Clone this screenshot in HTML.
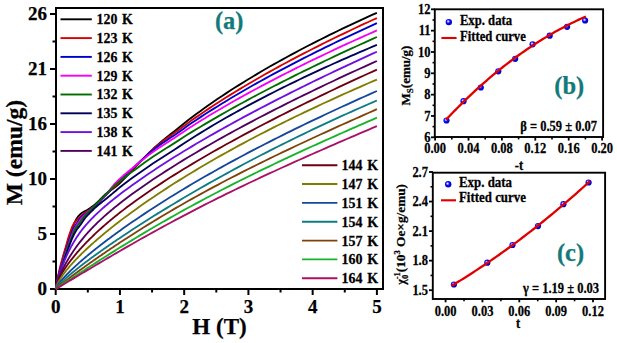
<!DOCTYPE html>
<html><head><meta charset="utf-8"><style>
html,body{margin:0;padding:0;background:#fff;}
body{width:617px;height:343px;overflow:hidden;}
svg{display:block;}
text{stroke:#000;stroke-width:0.25px;}
text.tl{stroke:#127a7a;}
</style></head><body>
<svg width="617" height="343" viewBox="0 0 617 343">
<rect width="617" height="343" fill="#fff"/>
<rect x="56" y="8" width="327" height="281" fill="none" stroke="#000" stroke-width="2"/>
<line x1="50" y1="289" x2="56" y2="289" stroke="#000" stroke-width="2"/>
<text x="47" y="294.8" text-anchor="end" font-size="19" font-family="Liberation Serif" font-weight="bold">0</text>
<line x1="52.5" y1="261.5" x2="56" y2="261.5" stroke="#000" stroke-width="2"/>
<line x1="50" y1="234" x2="56" y2="234" stroke="#000" stroke-width="2"/>
<text x="47" y="239.8" text-anchor="end" font-size="19" font-family="Liberation Serif" font-weight="bold">5</text>
<line x1="52.5" y1="206.5" x2="56" y2="206.5" stroke="#000" stroke-width="2"/>
<line x1="50" y1="179" x2="56" y2="179" stroke="#000" stroke-width="2"/>
<text x="47" y="184.8" text-anchor="end" font-size="19" font-family="Liberation Serif" font-weight="bold">10</text>
<line x1="52.5" y1="151.5" x2="56" y2="151.5" stroke="#000" stroke-width="2"/>
<line x1="50" y1="124" x2="56" y2="124" stroke="#000" stroke-width="2"/>
<text x="47" y="129.8" text-anchor="end" font-size="19" font-family="Liberation Serif" font-weight="bold">16</text>
<line x1="52.5" y1="96.5" x2="56" y2="96.5" stroke="#000" stroke-width="2"/>
<line x1="50" y1="69" x2="56" y2="69" stroke="#000" stroke-width="2"/>
<text x="47" y="74.8" text-anchor="end" font-size="19" font-family="Liberation Serif" font-weight="bold">21</text>
<line x1="52.5" y1="41.5" x2="56" y2="41.5" stroke="#000" stroke-width="2"/>
<line x1="50" y1="14" x2="56" y2="14" stroke="#000" stroke-width="2"/>
<text x="47" y="19.8" text-anchor="end" font-size="19" font-family="Liberation Serif" font-weight="bold">26</text>
<line x1="55.70" y1="289" x2="55.70" y2="295" stroke="#000" stroke-width="2"/>
<text x="55.70" y="312.5" text-anchor="middle" font-size="19" font-family="Liberation Serif" font-weight="bold">0</text>
<line x1="87.82" y1="289" x2="87.82" y2="292.5" stroke="#000" stroke-width="2"/>
<line x1="119.94" y1="289" x2="119.94" y2="295" stroke="#000" stroke-width="2"/>
<text x="119.94" y="312.5" text-anchor="middle" font-size="19" font-family="Liberation Serif" font-weight="bold">1</text>
<line x1="152.06" y1="289" x2="152.06" y2="292.5" stroke="#000" stroke-width="2"/>
<line x1="184.18" y1="289" x2="184.18" y2="295" stroke="#000" stroke-width="2"/>
<text x="184.18" y="312.5" text-anchor="middle" font-size="19" font-family="Liberation Serif" font-weight="bold">2</text>
<line x1="216.30" y1="289" x2="216.30" y2="292.5" stroke="#000" stroke-width="2"/>
<line x1="248.42" y1="289" x2="248.42" y2="295" stroke="#000" stroke-width="2"/>
<text x="248.42" y="312.5" text-anchor="middle" font-size="19" font-family="Liberation Serif" font-weight="bold">3</text>
<line x1="280.54" y1="289" x2="280.54" y2="292.5" stroke="#000" stroke-width="2"/>
<line x1="312.66" y1="289" x2="312.66" y2="295" stroke="#000" stroke-width="2"/>
<text x="312.66" y="312.5" text-anchor="middle" font-size="19" font-family="Liberation Serif" font-weight="bold">4</text>
<line x1="344.78" y1="289" x2="344.78" y2="292.5" stroke="#000" stroke-width="2"/>
<line x1="376.90" y1="289" x2="376.90" y2="295" stroke="#000" stroke-width="2"/>
<text x="376.90" y="312.5" text-anchor="middle" font-size="19" font-family="Liberation Serif" font-weight="bold">5</text>
<path d="M55.70,289.00 L56.51,284.77 L57.33,280.72 L58.14,276.89 L58.95,273.27 L59.77,269.90 L60.58,266.75 L61.39,263.77 L62.21,260.86 L63.02,257.96 L63.83,255.10 L64.64,252.29 L65.46,249.53 L66.27,246.79 L67.08,244.04 L67.90,241.29 L68.71,238.59 L69.52,236.00 L70.34,233.53 L71.15,231.12 L71.96,228.82 L72.78,226.71 L73.59,224.81 L74.40,222.99 L75.22,221.28 L76.03,219.71 L76.84,218.33 L77.66,217.18 L78.47,216.16 L79.28,215.25 L80.09,214.43 L80.91,213.70 L81.72,213.05 L82.53,212.49 L83.35,211.99 L84.16,211.53 L84.97,211.11 L85.79,210.70 L86.60,210.27 L87.41,209.81 L88.23,209.31 L89.04,208.79 L89.85,208.25 L90.67,207.70 L91.48,207.12 L92.29,206.53 L93.11,205.91 L93.92,205.27 L94.73,204.60 L95.55,203.91 L96.36,203.20 L97.17,202.46 L97.98,201.68 L98.80,200.88 L99.61,200.05 L100.42,199.22 L101.24,198.37 L102.05,197.53 L102.86,196.70 L103.68,195.88 L104.49,195.08 L105.30,194.31 L106.12,193.58 L106.93,192.88 L107.74,192.23 L108.56,191.63 L109.37,191.05 L110.18,190.50 L111.00,189.96 L111.81,189.43 L112.62,188.90 L113.43,188.36 L114.25,187.79 L115.06,187.20 L115.87,186.57 L116.69,185.91 L117.50,185.22 L118.31,184.50 L119.13,183.77 L119.94,183.01 L123.15,179.86 L127.45,175.36 L131.75,170.75 L136.05,166.25 L140.36,161.80 L144.66,157.29 L148.96,152.90 L153.26,148.80 L157.56,144.94 L161.86,141.26 L166.16,137.75 L170.46,134.34 L174.76,130.97 L179.06,127.52 L183.36,124.02 L187.66,120.56 L191.97,117.26 L196.27,114.05 L200.57,110.91 L204.87,107.82 L209.17,104.78 L213.47,101.80 L217.77,98.86 L222.07,95.97 L226.37,93.13 L230.67,90.33 L234.97,87.57 L239.27,84.85 L243.57,82.17 L247.88,79.53 L252.18,76.92 L256.48,74.35 L260.78,71.81 L265.08,69.30 L269.38,66.82 L273.68,64.38 L277.98,61.96 L282.28,59.57 L286.58,57.21 L290.88,54.88 L295.18,52.57 L299.49,50.28 L303.79,48.02 L308.09,45.79 L312.39,43.58 L316.69,41.39 L320.99,39.22 L325.29,37.07 L329.59,34.94 L333.89,32.84 L338.19,30.75 L342.49,28.68 L346.79,26.63 L351.10,24.60 L355.40,22.59 L359.70,20.60 L364.00,18.62 L368.30,16.66 L372.60,14.71 L376.90,12.79" fill="none" stroke="#000000" stroke-width="1.85" stroke-linejoin="round"/>
<path d="M55.70,289.00 L56.51,284.30 L57.33,279.85 L58.14,275.71 L58.95,271.89 L59.77,268.42 L60.58,265.21 L61.39,262.17 L62.21,259.20 L63.02,256.27 L63.83,253.45 L64.64,250.69 L65.46,247.94 L66.27,245.14 L67.08,242.21 L67.90,239.26 L68.71,236.46 L69.52,233.97 L70.34,231.69 L71.15,229.50 L71.96,227.46 L72.78,225.64 L73.59,224.10 L74.40,222.87 L75.22,221.83 L76.03,220.92 L76.84,220.09 L77.66,219.29 L78.47,218.49 L79.28,217.70 L80.09,216.94 L80.91,216.20 L81.72,215.49 L82.53,214.81 L83.35,214.14 L84.16,213.50 L84.97,212.89 L85.79,212.30 L86.60,211.72 L87.41,211.15 L88.23,210.59 L89.04,210.03 L89.85,209.46 L90.67,208.88 L91.48,208.29 L92.29,207.70 L93.11,207.12 L93.92,206.53 L94.73,205.91 L95.55,205.27 L96.36,204.59 L97.17,203.87 L97.98,203.11 L98.80,202.33 L99.61,201.52 L100.42,200.69 L101.24,199.85 L102.05,199.00 L102.86,198.14 L103.68,197.28 L104.49,196.43 L105.30,195.59 L106.12,194.77 L106.93,193.96 L107.74,193.18 L108.56,192.41 L109.37,191.64 L110.18,190.88 L111.00,190.12 L111.81,189.36 L112.62,188.61 L113.43,187.85 L114.25,187.09 L115.06,186.32 L115.87,185.55 L116.69,184.77 L117.50,183.98 L118.31,183.20 L119.13,182.41 L119.94,181.61 L123.15,178.46 L127.45,174.21 L131.75,169.95 L136.05,165.72 L140.36,161.47 L144.66,157.20 L148.96,153.06 L153.26,149.18 L157.56,145.48 L161.86,141.96 L166.16,138.72 L170.46,135.71 L174.76,132.77 L179.06,129.68 L183.36,126.45 L187.66,123.20 L191.97,120.11 L196.27,117.12 L200.57,114.16 L204.87,111.25 L209.17,108.39 L213.47,105.56 L217.77,102.78 L222.07,100.03 L226.37,97.32 L230.67,94.64 L234.97,92.00 L239.27,89.38 L243.57,86.80 L247.88,84.25 L252.18,81.73 L256.48,79.23 L260.78,76.77 L265.08,74.32 L269.38,71.91 L273.68,69.52 L277.98,67.15 L282.28,64.81 L286.58,62.48 L290.88,60.19 L295.18,57.91 L299.49,55.65 L303.79,53.41 L308.09,51.20 L312.39,49.00 L316.69,46.82 L320.99,44.66 L325.29,42.51 L329.59,40.39 L333.89,38.28 L338.19,36.18 L342.49,34.11 L346.79,32.05 L351.10,30.00 L355.40,27.97 L359.70,25.96 L364.00,23.96 L368.30,21.97 L372.60,20.00 L376.90,18.04" fill="none" stroke="#d80000" stroke-width="1.85" stroke-linejoin="round"/>
<path d="M55.70,289.00 L56.51,285.11 L57.33,281.38 L58.14,277.83 L58.95,274.45 L59.77,271.27 L60.58,268.32 L61.39,265.53 L62.21,262.83 L63.02,260.16 L63.83,257.43 L64.64,254.71 L65.46,252.01 L66.27,249.35 L67.08,246.78 L67.90,244.25 L68.71,241.79 L69.52,239.38 L70.34,237.03 L71.15,234.72 L71.96,232.43 L72.78,230.37 L73.59,228.64 L74.40,227.10 L75.22,225.70 L76.03,224.39 L76.84,223.13 L77.66,221.91 L78.47,220.73 L79.28,219.60 L80.09,218.56 L80.91,217.60 L81.72,216.75 L82.53,215.97 L83.35,215.26 L84.16,214.60 L84.97,213.96 L85.79,213.35 L86.60,212.73 L87.41,212.11 L88.23,211.47 L89.04,210.84 L89.85,210.22 L90.67,209.62 L91.48,209.01 L92.29,208.41 L93.11,207.79 L93.92,207.16 L94.73,206.50 L95.55,205.82 L96.36,205.10 L97.17,204.35 L97.98,203.57 L98.80,202.76 L99.61,201.93 L100.42,201.08 L101.24,200.22 L102.05,199.34 L102.86,198.45 L103.68,197.56 L104.49,196.66 L105.30,195.76 L106.12,194.87 L106.93,193.98 L107.74,193.10 L108.56,192.19 L109.37,191.27 L110.18,190.34 L111.00,189.40 L111.81,188.47 L112.62,187.54 L113.43,186.62 L114.25,185.72 L115.06,184.83 L115.87,183.98 L116.69,183.14 L117.50,182.32 L118.31,181.51 L119.13,180.71 L119.94,179.92 L123.15,176.87 L127.45,172.93 L131.75,169.07 L136.05,165.20 L140.36,161.25 L144.66,157.32 L148.96,153.54 L153.26,150.02 L157.56,146.72 L161.86,143.61 L166.16,140.68 L170.46,137.84 L174.76,135.00 L179.06,132.01 L183.36,128.88 L187.66,125.76 L191.97,122.80 L196.27,119.94 L200.57,117.11 L204.87,114.33 L209.17,111.58 L213.47,108.86 L217.77,106.18 L222.07,103.54 L226.37,100.92 L230.67,98.33 L234.97,95.78 L239.27,93.25 L243.57,90.75 L247.88,88.27 L252.18,85.82 L256.48,83.40 L260.78,81.00 L265.08,78.62 L269.38,76.27 L273.68,73.93 L277.98,71.62 L282.28,69.33 L286.58,67.06 L290.88,64.81 L295.18,62.57 L299.49,60.36 L303.79,58.16 L308.09,55.98 L312.39,53.82 L316.69,51.68 L320.99,49.55 L325.29,47.44 L329.59,45.34 L333.89,43.26 L338.19,41.19 L342.49,39.14 L346.79,37.10 L351.10,35.07 L355.40,33.06 L359.70,31.06 L364.00,29.08 L368.30,27.11 L372.60,25.15 L376.90,23.20" fill="none" stroke="#0000cc" stroke-width="1.85" stroke-linejoin="round"/>
<path d="M55.70,289.00 L56.51,285.49 L57.33,282.08 L58.14,278.77 L58.95,275.57 L59.77,272.49 L60.58,269.51 L61.39,266.64 L62.21,263.86 L63.02,261.16 L63.83,258.53 L64.64,255.98 L65.46,253.50 L66.27,251.08 L67.08,248.69 L67.90,246.30 L68.71,243.93 L69.52,241.58 L70.34,239.29 L71.15,237.09 L71.96,234.92 L72.78,232.81 L73.59,230.87 L74.40,229.20 L75.22,227.72 L76.03,226.36 L76.84,225.09 L77.66,223.85 L78.47,222.63 L79.28,221.42 L80.09,220.25 L80.91,219.13 L81.72,218.06 L82.53,217.08 L83.35,216.18 L84.16,215.35 L84.97,214.58 L85.79,213.85 L86.60,213.15 L87.41,212.46 L88.23,211.77 L89.04,211.07 L89.85,210.35 L90.67,209.63 L91.48,208.93 L92.29,208.22 L93.11,207.52 L93.92,206.80 L94.73,206.07 L95.55,205.32 L96.36,204.55 L97.17,203.76 L97.98,202.97 L98.80,202.16 L99.61,201.34 L100.42,200.51 L101.24,199.66 L102.05,198.81 L102.86,197.95 L103.68,197.07 L104.49,196.19 L105.30,195.29 L106.12,194.38 L106.93,193.46 L107.74,192.52 L108.56,191.52 L109.37,190.49 L110.18,189.43 L111.00,188.37 L111.81,187.32 L112.62,186.29 L113.43,185.29 L114.25,184.36 L115.06,183.49 L115.87,182.65 L116.69,181.83 L117.50,181.02 L118.31,180.23 L119.13,179.46 L119.94,178.70 L123.15,175.83 L127.45,172.21 L131.75,168.71 L136.05,165.20 L140.36,161.66 L144.66,158.18 L148.96,154.85 L153.26,151.70 L157.56,148.75 L161.86,145.94 L166.16,143.22 L170.46,140.47 L174.76,137.69 L179.06,134.82 L183.36,131.89 L187.66,128.98 L191.97,126.20 L196.27,123.50 L200.57,120.82 L204.87,118.18 L209.17,115.58 L213.47,113.00 L217.77,110.45 L222.07,107.94 L226.37,105.45 L230.67,102.98 L234.97,100.54 L239.27,98.13 L243.57,95.74 L247.88,93.37 L252.18,91.02 L256.48,88.70 L260.78,86.40 L265.08,84.12 L269.38,81.85 L273.68,79.61 L277.98,77.38 L282.28,75.18 L286.58,72.99 L290.88,70.82 L295.18,68.66 L299.49,66.52 L303.79,64.40 L308.09,62.29 L312.39,60.20 L316.69,58.12 L320.99,56.06 L325.29,54.01 L329.59,51.97 L333.89,49.95 L338.19,47.94 L342.49,45.95 L346.79,43.96 L351.10,41.99 L355.40,40.03 L359.70,38.09 L364.00,36.15 L368.30,34.23 L372.60,32.31 L376.90,30.41" fill="none" stroke="#f400f4" stroke-width="1.85" stroke-linejoin="round"/>
<path d="M55.70,289.00 L56.51,285.66 L57.33,282.40 L58.14,279.23 L58.95,276.15 L59.77,273.16 L60.58,270.27 L61.39,267.49 L62.21,264.78 L63.02,262.14 L63.83,259.55 L64.64,256.99 L65.46,254.46 L66.27,251.98 L67.08,249.57 L67.90,247.24 L68.71,245.01 L69.52,242.86 L70.34,240.77 L71.15,238.71 L71.96,236.66 L72.78,234.53 L73.59,232.45 L74.40,230.59 L75.22,229.09 L76.03,227.81 L76.84,226.65 L77.66,225.56 L78.47,224.48 L79.28,223.35 L80.09,222.18 L80.91,221.00 L81.72,219.82 L82.53,218.68 L83.35,217.58 L84.16,216.55 L84.97,215.60 L85.79,214.73 L86.60,213.91 L87.41,213.13 L88.23,212.36 L89.04,211.61 L89.85,210.84 L90.67,210.04 L91.48,209.21 L92.29,208.35 L93.11,207.47 L93.92,206.58 L94.73,205.70 L95.55,204.84 L96.36,203.99 L97.17,203.16 L97.98,202.33 L98.80,201.51 L99.61,200.69 L100.42,199.88 L101.24,199.07 L102.05,198.27 L102.86,197.47 L103.68,196.66 L104.49,195.86 L105.30,195.06 L106.12,194.25 L106.93,193.44 L107.74,192.62 L108.56,191.79 L109.37,190.95 L110.18,190.11 L111.00,189.27 L111.81,188.43 L112.62,187.60 L113.43,186.79 L114.25,185.99 L115.06,185.22 L115.87,184.48 L116.69,183.76 L117.50,183.06 L118.31,182.37 L119.13,181.69 L119.94,181.02 L123.15,178.47 L127.45,175.23 L131.75,172.08 L136.05,168.91 L140.36,165.71 L144.66,162.54 L148.96,159.46 L153.26,156.51 L157.56,153.67 L161.86,150.94 L166.16,148.26 L170.46,145.59 L174.76,142.89 L179.06,140.14 L183.36,137.33 L187.66,134.56 L191.97,131.89 L196.27,129.27 L200.57,126.68 L204.87,124.12 L209.17,121.59 L213.47,119.08 L217.77,116.60 L222.07,114.14 L226.37,111.71 L230.67,109.29 L234.97,106.90 L239.27,104.54 L243.57,102.19 L247.88,99.86 L252.18,97.55 L256.48,95.26 L260.78,92.99 L265.08,90.73 L269.38,88.50 L273.68,86.27 L277.98,84.07 L282.28,81.88 L286.58,79.71 L290.88,77.55 L295.18,75.40 L299.49,73.27 L303.79,71.16 L308.09,69.06 L312.39,66.97 L316.69,64.89 L320.99,62.83 L325.29,60.77 L329.59,58.73 L333.89,56.71 L338.19,54.69 L342.49,52.69 L346.79,50.69 L351.10,48.71 L355.40,46.74 L359.70,44.78 L364.00,42.82 L368.30,40.88 L372.60,38.95 L376.90,37.03" fill="none" stroke="#006c00" stroke-width="1.85" stroke-linejoin="round"/>
<path d="M55.70,289.00 L56.51,285.69 L57.33,282.48 L58.14,279.38 L58.95,276.40 L59.77,273.54 L60.58,270.81 L61.39,268.22 L62.21,265.73 L63.02,263.32 L63.83,260.95 L64.64,258.59 L65.46,256.26 L66.27,253.96 L67.08,251.71 L67.90,249.49 L68.71,247.32 L69.52,245.14 L70.34,242.99 L71.15,240.89 L71.96,238.90 L72.78,237.06 L73.59,235.34 L74.40,233.70 L75.22,232.17 L76.03,230.76 L76.84,229.49 L77.66,228.37 L78.47,227.35 L79.28,226.34 L80.09,225.28 L80.91,224.13 L81.72,222.94 L82.53,221.73 L83.35,220.52 L84.16,219.35 L84.97,218.23 L85.79,217.20 L86.60,216.26 L87.41,215.38 L88.23,214.55 L89.04,213.74 L89.85,212.94 L90.67,212.15 L91.48,211.34 L92.29,210.54 L93.11,209.73 L93.92,208.94 L94.73,208.17 L95.55,207.42 L96.36,206.69 L97.17,205.99 L97.98,205.30 L98.80,204.63 L99.61,203.96 L100.42,203.31 L101.24,202.67 L102.05,202.03 L102.86,201.39 L103.68,200.75 L104.49,200.12 L105.30,199.47 L106.12,198.83 L106.93,198.17 L107.74,197.51 L108.56,196.83 L109.37,196.16 L110.18,195.48 L111.00,194.80 L111.81,194.11 L112.62,193.42 L113.43,192.74 L114.25,192.05 L115.06,191.36 L115.87,190.68 L116.69,189.99 L117.50,189.31 L118.31,188.64 L119.13,187.97 L119.94,187.30 L123.15,184.74 L127.45,181.50 L131.75,178.33 L136.05,175.22 L140.36,172.18 L144.66,169.19 L148.96,166.25 L153.26,163.35 L157.56,160.50 L161.86,157.70 L166.16,154.96 L170.46,152.22 L174.76,149.43 L179.06,146.62 L183.36,143.79 L187.66,140.99 L191.97,138.23 L196.27,135.52 L200.57,132.85 L204.87,130.21 L209.17,127.61 L213.47,125.05 L217.77,122.52 L222.07,120.03 L226.37,117.56 L230.67,115.12 L234.97,112.72 L239.27,110.34 L243.57,107.99 L247.88,105.66 L252.18,103.36 L256.48,101.08 L260.78,98.83 L265.08,96.60 L269.38,94.39 L273.68,92.20 L277.98,90.04 L282.28,87.89 L286.58,85.77 L290.88,83.66 L295.18,81.57 L299.49,79.50 L303.79,77.45 L308.09,75.41 L312.39,73.39 L316.69,71.39 L320.99,69.40 L325.29,67.43 L329.59,65.47 L333.89,63.53 L338.19,61.61 L342.49,59.69 L346.79,57.79 L351.10,55.91 L355.40,54.04 L359.70,52.18 L364.00,50.33 L368.30,48.50 L372.60,46.68 L376.90,44.87" fill="none" stroke="#000058" stroke-width="1.85" stroke-linejoin="round"/>
<path d="M55.70,289.00 L56.51,284.37 L57.33,281.21 L58.14,278.40 L58.95,275.79 L59.77,273.33 L60.58,270.98 L61.39,268.72 L62.21,266.54 L63.02,264.44 L63.83,262.41 L64.64,260.44 L65.46,258.53 L66.27,256.68 L67.08,254.88 L67.90,253.14 L68.71,251.46 L69.52,249.82 L70.34,248.23 L71.15,246.69 L71.96,245.20 L72.78,243.75 L73.59,242.34 L74.40,240.97 L75.22,239.64 L76.03,238.35 L76.84,237.09 L77.66,235.87 L78.47,234.68 L79.28,233.52 L80.09,232.39 L80.91,231.29 L81.72,230.22 L82.53,229.17 L83.35,228.14 L84.16,227.14 L84.97,226.16 L85.79,225.20 L86.60,224.26 L87.41,223.33 L88.23,222.43 L89.04,221.53 L89.85,220.66 L90.67,219.80 L91.48,218.95 L92.29,218.12 L93.11,217.29 L93.92,216.48 L94.73,215.68 L95.55,214.90 L96.36,214.12 L97.17,213.35 L97.98,212.58 L98.80,211.83 L99.61,211.09 L100.42,210.35 L101.24,209.62 L102.05,208.90 L102.86,208.18 L103.68,207.47 L104.49,206.77 L105.30,206.07 L106.12,205.38 L106.93,204.69 L107.74,204.01 L108.56,203.33 L109.37,202.66 L110.18,201.99 L111.00,201.33 L111.81,200.67 L112.62,200.01 L113.43,199.36 L114.25,198.71 L115.06,198.07 L115.87,197.43 L116.69,196.79 L117.50,196.16 L118.31,195.53 L119.13,194.90 L119.94,194.28 L123.15,191.84 L127.45,188.64 L131.75,185.51 L136.05,182.43 L140.36,179.42 L144.66,176.45 L148.96,173.53 L153.26,170.65 L157.56,167.82 L161.86,165.02 L166.16,162.26 L170.46,159.53 L174.76,156.83 L179.06,154.17 L183.36,151.54 L187.66,148.93 L191.97,146.35 L196.27,143.80 L200.57,141.27 L204.87,138.77 L209.17,136.29 L213.47,133.83 L217.77,131.39 L222.07,128.98 L226.37,126.58 L230.67,124.20 L234.97,121.84 L239.27,119.50 L243.57,117.18 L247.88,114.87 L252.18,112.58 L256.48,110.31 L260.78,108.05 L265.08,105.81 L269.38,103.58 L273.68,101.37 L277.98,99.17 L282.28,96.98 L286.58,94.81 L290.88,92.64 L295.18,90.50 L299.49,88.36 L303.79,86.24 L308.09,84.13 L312.39,82.03 L316.69,79.94 L320.99,77.86 L325.29,75.79 L329.59,73.74 L333.89,71.69 L338.19,69.65 L342.49,67.63 L346.79,65.61 L351.10,63.60 L355.40,61.61 L359.70,59.62 L364.00,57.64 L368.30,55.67 L372.60,53.71 L376.90,51.75" fill="none" stroke="#7010e0" stroke-width="1.85" stroke-linejoin="round"/>
<path d="M55.70,289.00 L56.51,284.66 L57.33,281.97 L58.14,279.65 L58.95,277.55 L59.77,275.59 L60.58,273.73 L61.39,271.97 L62.21,270.27 L63.02,268.63 L63.83,267.05 L64.64,265.51 L65.46,264.01 L66.27,262.55 L67.08,261.13 L67.90,259.73 L68.71,258.37 L69.52,257.04 L70.34,255.74 L71.15,254.46 L71.96,253.21 L72.78,251.98 L73.59,250.77 L74.40,249.59 L75.22,248.42 L76.03,247.28 L76.84,246.16 L77.66,245.06 L78.47,243.97 L79.28,242.90 L80.09,241.85 L80.91,240.82 L81.72,239.80 L82.53,238.80 L83.35,237.82 L84.16,236.84 L84.97,235.89 L85.79,234.94 L86.60,234.01 L87.41,233.10 L88.23,232.19 L89.04,231.30 L89.85,230.42 L90.67,229.54 L91.48,228.69 L92.29,227.84 L93.11,227.00 L93.92,226.17 L94.73,225.35 L95.55,224.54 L96.36,223.74 L97.17,222.94 L97.98,222.16 L98.80,221.38 L99.61,220.61 L100.42,219.85 L101.24,219.09 L102.05,218.35 L102.86,217.60 L103.68,216.87 L104.49,216.14 L105.30,215.42 L106.12,214.70 L106.93,213.99 L107.74,213.29 L108.56,212.59 L109.37,211.89 L110.18,211.20 L111.00,210.52 L111.81,209.84 L112.62,209.16 L113.43,208.49 L114.25,207.83 L115.06,207.16 L115.87,206.50 L116.69,205.85 L117.50,205.20 L118.31,204.55 L119.13,203.91 L119.94,203.27 L123.15,200.78 L127.45,197.52 L131.75,194.33 L136.05,191.22 L140.36,188.17 L144.66,185.17 L148.96,182.23 L153.26,179.33 L157.56,176.48 L161.86,173.67 L166.16,170.90 L170.46,168.17 L174.76,165.47 L179.06,162.80 L183.36,160.16 L187.66,157.56 L191.97,154.98 L196.27,152.43 L200.57,149.90 L204.87,147.40 L209.17,144.93 L213.47,142.48 L217.77,140.04 L222.07,137.64 L226.37,135.25 L230.67,132.88 L234.97,130.53 L239.27,128.20 L243.57,125.88 L247.88,123.59 L252.18,121.31 L256.48,119.05 L260.78,116.80 L265.08,114.57 L269.38,112.36 L273.68,110.16 L277.98,107.97 L282.28,105.80 L286.58,103.64 L290.88,101.50 L295.18,99.37 L299.49,97.25 L303.79,95.14 L308.09,93.05 L312.39,90.96 L316.69,88.89 L320.99,86.83 L325.29,84.78 L329.59,82.75 L333.89,80.72 L338.19,78.70 L342.49,76.69 L346.79,74.70 L351.10,72.71 L355.40,70.73 L359.70,68.76 L364.00,66.81 L368.30,64.86 L372.60,62.92 L376.90,60.98" fill="none" stroke="#52005e" stroke-width="1.85" stroke-linejoin="round"/>
<path d="M55.70,289.00 L56.51,285.14 L57.33,282.80 L58.14,280.82 L58.95,279.04 L59.77,277.39 L60.58,275.84 L61.39,274.37 L62.21,272.96 L63.02,271.61 L63.83,270.30 L64.64,269.04 L65.46,267.80 L66.27,266.60 L67.08,265.43 L67.90,264.28 L68.71,263.16 L69.52,262.06 L70.34,260.98 L71.15,259.91 L71.96,258.87 L72.78,257.84 L73.59,256.83 L74.40,255.83 L75.22,254.85 L76.03,253.87 L76.84,252.92 L77.66,251.97 L78.47,251.03 L79.28,250.11 L80.09,249.20 L80.91,248.29 L81.72,247.40 L82.53,246.52 L83.35,245.64 L84.16,244.77 L84.97,243.92 L85.79,243.07 L86.60,242.23 L87.41,241.39 L88.23,240.57 L89.04,239.75 L89.85,238.94 L90.67,238.13 L91.48,237.33 L92.29,236.54 L93.11,235.75 L93.92,234.98 L94.73,234.20 L95.55,233.43 L96.36,232.67 L97.17,231.92 L97.98,231.17 L98.80,230.42 L99.61,229.68 L100.42,228.95 L101.24,228.22 L102.05,227.49 L102.86,226.77 L103.68,226.06 L104.49,225.35 L105.30,224.64 L106.12,223.94 L106.93,223.24 L107.74,222.55 L108.56,221.86 L109.37,221.17 L110.18,220.49 L111.00,219.81 L111.81,219.14 L112.62,218.47 L113.43,217.81 L114.25,217.14 L115.06,216.48 L115.87,215.83 L116.69,215.18 L117.50,214.53 L118.31,213.88 L119.13,213.24 L119.94,212.60 L123.15,210.11 L127.45,206.83 L131.75,203.64 L136.05,200.51 L140.36,197.44 L144.66,194.43 L148.96,191.47 L153.26,188.56 L157.56,185.69 L161.86,182.87 L166.16,180.09 L170.46,177.34 L174.76,174.63 L179.06,171.96 L183.36,169.31 L187.66,166.70 L191.97,164.11 L196.27,161.55 L200.57,159.02 L204.87,156.51 L209.17,154.03 L213.47,151.57 L217.77,149.13 L222.07,146.71 L226.37,144.31 L230.67,141.94 L234.97,139.58 L239.27,137.24 L243.57,134.91 L247.88,132.61 L252.18,130.32 L256.48,128.05 L260.78,125.79 L265.08,123.55 L269.38,121.33 L273.68,119.11 L277.98,116.92 L282.28,114.73 L286.58,112.56 L290.88,110.41 L295.18,108.26 L299.49,106.13 L303.79,104.01 L308.09,101.90 L312.39,99.81 L316.69,97.72 L320.99,95.65 L325.29,93.59 L329.59,91.53 L333.89,89.49 L338.19,87.46 L342.49,85.44 L346.79,83.43 L351.10,81.43 L355.40,79.43 L359.70,77.45 L364.00,75.48 L368.30,73.51 L372.60,71.56 L376.90,69.61" fill="none" stroke="#6c0012" stroke-width="1.85" stroke-linejoin="round"/>
<path d="M55.70,289.00 L56.51,286.04 L57.33,284.15 L58.14,282.53 L58.95,281.06 L59.77,279.69 L60.58,278.40 L61.39,277.16 L62.21,275.98 L63.02,274.83 L63.83,273.72 L64.64,272.64 L65.46,271.58 L66.27,270.55 L67.08,269.54 L67.90,268.55 L68.71,267.58 L69.52,266.62 L70.34,265.68 L71.15,264.76 L71.96,263.85 L72.78,262.95 L73.59,262.06 L74.40,261.18 L75.22,260.31 L76.03,259.45 L76.84,258.61 L77.66,257.77 L78.47,256.94 L79.28,256.11 L80.09,255.30 L80.91,254.49 L81.72,253.69 L82.53,252.89 L83.35,252.10 L84.16,251.32 L84.97,250.55 L85.79,249.78 L86.60,249.01 L87.41,248.25 L88.23,247.50 L89.04,246.75 L89.85,246.01 L90.67,245.27 L91.48,244.54 L92.29,243.81 L93.11,243.08 L93.92,242.36 L94.73,241.64 L95.55,240.93 L96.36,240.22 L97.17,239.52 L97.98,238.82 L98.80,238.12 L99.61,237.43 L100.42,236.74 L101.24,236.05 L102.05,235.37 L102.86,234.68 L103.68,234.01 L104.49,233.33 L105.30,232.66 L106.12,232.00 L106.93,231.33 L107.74,230.67 L108.56,230.01 L109.37,229.35 L110.18,228.70 L111.00,228.05 L111.81,227.40 L112.62,226.76 L113.43,226.11 L114.25,225.47 L115.06,224.84 L115.87,224.20 L116.69,223.57 L117.50,222.94 L118.31,222.31 L119.13,221.68 L119.94,221.06 L123.15,218.62 L127.45,215.40 L131.75,212.24 L136.05,209.13 L140.36,206.07 L144.66,203.06 L148.96,200.09 L153.26,197.16 L157.56,194.27 L161.86,191.42 L166.16,188.61 L170.46,185.83 L174.76,183.09 L179.06,180.38 L183.36,177.70 L187.66,175.06 L191.97,172.44 L196.27,169.85 L200.57,167.29 L204.87,164.76 L209.17,162.26 L213.47,159.78 L217.77,157.32 L222.07,154.89 L226.37,152.49 L230.67,150.11 L234.97,147.75 L239.27,145.41 L243.57,143.09 L247.88,140.80 L252.18,138.52 L256.48,136.27 L260.78,134.03 L265.08,131.81 L269.38,129.61 L273.68,127.43 L277.98,125.27 L282.28,123.13 L286.58,121.00 L290.88,118.89 L295.18,116.79 L299.49,114.71 L303.79,112.64 L308.09,110.59 L312.39,108.56 L316.69,106.54 L320.99,104.53 L325.29,102.53 L329.59,100.55 L333.89,98.59 L338.19,96.63 L342.49,94.69 L346.79,92.76 L351.10,90.84 L355.40,88.93 L359.70,87.03 L364.00,85.15 L368.30,83.27 L372.60,81.41 L376.90,79.56" fill="none" stroke="#807c00" stroke-width="1.85" stroke-linejoin="round"/>
<path d="M55.70,289.00 L56.51,287.14 L57.33,285.81 L58.14,284.61 L58.95,283.49 L59.77,282.43 L60.58,281.42 L61.39,280.44 L62.21,279.49 L63.02,278.56 L63.83,277.66 L64.64,276.77 L65.46,275.90 L66.27,275.04 L67.08,274.20 L67.90,273.37 L68.71,272.55 L69.52,271.74 L70.34,270.94 L71.15,270.15 L71.96,269.37 L72.78,268.60 L73.59,267.83 L74.40,267.07 L75.22,266.32 L76.03,265.57 L76.84,264.83 L77.66,264.10 L78.47,263.37 L79.28,262.65 L80.09,261.93 L80.91,261.21 L81.72,260.51 L82.53,259.80 L83.35,259.10 L84.16,258.40 L84.97,257.71 L85.79,257.02 L86.60,256.34 L87.41,255.66 L88.23,254.98 L89.04,254.31 L89.85,253.64 L90.67,252.97 L91.48,252.31 L92.29,251.65 L93.11,250.99 L93.92,250.34 L94.73,249.69 L95.55,249.04 L96.36,248.39 L97.17,247.75 L97.98,247.11 L98.80,246.47 L99.61,245.84 L100.42,245.20 L101.24,244.57 L102.05,243.94 L102.86,243.32 L103.68,242.70 L104.49,242.07 L105.30,241.46 L106.12,240.84 L106.93,240.22 L107.74,239.61 L108.56,239.00 L109.37,238.39 L110.18,237.79 L111.00,237.18 L111.81,236.58 L112.62,235.98 L113.43,235.38 L114.25,234.78 L115.06,234.19 L115.87,233.60 L116.69,233.01 L117.50,232.42 L118.31,231.83 L119.13,231.24 L119.94,230.66 L123.15,228.37 L127.45,225.34 L131.75,222.35 L136.05,219.40 L140.36,216.49 L144.66,213.62 L148.96,210.78 L153.26,207.98 L157.56,205.21 L161.86,202.47 L166.16,199.76 L170.46,197.07 L174.76,194.42 L179.06,191.79 L183.36,189.20 L187.66,186.62 L191.97,184.07 L196.27,181.55 L200.57,179.05 L204.87,176.57 L209.17,174.12 L213.47,171.68 L217.77,169.27 L222.07,166.88 L226.37,164.51 L230.67,162.16 L234.97,159.83 L239.27,157.51 L243.57,155.22 L247.88,152.94 L252.18,150.68 L256.48,148.44 L260.78,146.21 L265.08,144.00 L269.38,141.81 L273.68,139.63 L277.98,137.46 L282.28,135.31 L286.58,133.18 L290.88,131.05 L295.18,128.94 L299.49,126.85 L303.79,124.77 L308.09,122.69 L312.39,120.64 L316.69,118.59 L320.99,116.55 L325.29,114.53 L329.59,112.51 L333.89,110.51 L338.19,108.52 L342.49,106.53 L346.79,104.56 L351.10,102.60 L355.40,100.64 L359.70,98.70 L364.00,96.76 L368.30,94.84 L372.60,92.92 L376.90,91.01" fill="none" stroke="#14489c" stroke-width="1.85" stroke-linejoin="round"/>
<path d="M55.70,289.00 L56.51,287.69 L57.33,286.67 L58.14,285.73 L58.95,284.85 L59.77,284.00 L60.58,283.17 L61.39,282.37 L62.21,281.59 L63.02,280.82 L63.83,280.07 L64.64,279.32 L65.46,278.59 L66.27,277.87 L67.08,277.15 L67.90,276.44 L68.71,275.74 L69.52,275.05 L70.34,274.36 L71.15,273.68 L71.96,273.00 L72.78,272.33 L73.59,271.67 L74.40,271.00 L75.22,270.35 L76.03,269.69 L76.84,269.04 L77.66,268.40 L78.47,267.75 L79.28,267.11 L80.09,266.48 L80.91,265.85 L81.72,265.22 L82.53,264.59 L83.35,263.97 L84.16,263.34 L84.97,262.73 L85.79,262.11 L86.60,261.50 L87.41,260.89 L88.23,260.28 L89.04,259.67 L89.85,259.07 L90.67,258.46 L91.48,257.86 L92.29,257.27 L93.11,256.67 L93.92,256.08 L94.73,255.49 L95.55,254.90 L96.36,254.31 L97.17,253.72 L97.98,253.14 L98.80,252.55 L99.61,251.97 L100.42,251.39 L101.24,250.81 L102.05,250.24 L102.86,249.66 L103.68,249.09 L104.49,248.52 L105.30,247.95 L106.12,247.38 L106.93,246.81 L107.74,246.24 L108.56,245.68 L109.37,245.11 L110.18,244.55 L111.00,243.99 L111.81,243.43 L112.62,242.87 L113.43,242.32 L114.25,241.76 L115.06,241.21 L115.87,240.65 L116.69,240.10 L117.50,239.55 L118.31,239.00 L119.13,238.45 L119.94,237.90 L123.15,235.75 L127.45,232.90 L131.75,230.07 L136.05,227.28 L140.36,224.50 L144.66,221.76 L148.96,219.03 L153.26,216.34 L157.56,213.66 L161.86,211.01 L166.16,208.37 L170.46,205.76 L174.76,203.17 L179.06,200.60 L183.36,198.05 L187.66,195.52 L191.97,193.01 L196.27,190.52 L200.57,188.05 L204.87,185.59 L209.17,183.16 L213.47,180.74 L217.77,178.34 L222.07,175.96 L226.37,173.59 L230.67,171.24 L234.97,168.91 L239.27,166.60 L243.57,164.30 L247.88,162.02 L252.18,159.76 L256.48,157.51 L260.78,155.28 L265.08,153.06 L269.38,150.86 L273.68,148.68 L277.98,146.51 L282.28,144.35 L286.58,142.21 L290.88,140.09 L295.18,137.98 L299.49,135.89 L303.79,133.81 L308.09,131.74 L312.39,129.69 L316.69,127.65 L320.99,125.63 L325.29,123.62 L329.59,121.62 L333.89,119.64 L338.19,117.67 L342.49,115.71 L346.79,113.77 L351.10,111.84 L355.40,109.92 L359.70,108.01 L364.00,106.12 L368.30,104.23 L372.60,102.36 L376.90,100.51" fill="none" stroke="#0e7c86" stroke-width="1.85" stroke-linejoin="round"/>
<path d="M55.70,289.00 L56.51,288.22 L57.33,287.50 L58.14,286.81 L58.95,286.14 L59.77,285.47 L60.58,284.81 L61.39,284.16 L62.21,283.52 L63.02,282.88 L63.83,282.24 L64.64,281.61 L65.46,280.98 L66.27,280.36 L67.08,279.74 L67.90,279.12 L68.71,278.50 L69.52,277.89 L70.34,277.28 L71.15,276.67 L71.96,276.06 L72.78,275.46 L73.59,274.85 L74.40,274.25 L75.22,273.65 L76.03,273.05 L76.84,272.46 L77.66,271.86 L78.47,271.27 L79.28,270.68 L80.09,270.09 L80.91,269.50 L81.72,268.91 L82.53,268.32 L83.35,267.74 L84.16,267.16 L84.97,266.57 L85.79,265.99 L86.60,265.41 L87.41,264.84 L88.23,264.26 L89.04,263.68 L89.85,263.11 L90.67,262.54 L91.48,261.96 L92.29,261.39 L93.11,260.82 L93.92,260.25 L94.73,259.69 L95.55,259.12 L96.36,258.55 L97.17,257.99 L97.98,257.42 L98.80,256.86 L99.61,256.30 L100.42,255.74 L101.24,255.18 L102.05,254.62 L102.86,254.07 L103.68,253.51 L104.49,252.96 L105.30,252.40 L106.12,251.85 L106.93,251.30 L107.74,250.75 L108.56,250.20 L109.37,249.65 L110.18,249.10 L111.00,248.55 L111.81,248.01 L112.62,247.46 L113.43,246.92 L114.25,246.38 L115.06,245.83 L115.87,245.29 L116.69,244.75 L117.50,244.21 L118.31,243.68 L119.13,243.14 L119.94,242.60 L123.15,240.50 L127.45,237.70 L131.75,234.93 L136.05,232.19 L140.36,229.47 L144.66,226.78 L148.96,224.12 L153.26,221.48 L157.56,218.87 L161.86,216.28 L166.16,213.72 L170.46,211.19 L174.76,208.67 L179.06,206.19 L183.36,203.72 L187.66,201.28 L191.97,198.87 L196.27,196.47 L200.57,194.10 L204.87,191.74 L209.17,189.41 L213.47,187.10 L217.77,184.81 L222.07,182.54 L226.37,180.28 L230.67,178.04 L234.97,175.82 L239.27,173.62 L243.57,171.43 L247.88,169.26 L252.18,167.11 L256.48,164.96 L260.78,162.84 L265.08,160.72 L269.38,158.62 L273.68,156.53 L277.98,154.46 L282.28,152.39 L286.58,150.34 L290.88,148.30 L295.18,146.27 L299.49,144.25 L303.79,142.23 L308.09,140.23 L312.39,138.24 L316.69,136.25 L320.99,134.28 L325.29,132.31 L329.59,130.35 L333.89,128.39 L338.19,126.45 L342.49,124.51 L346.79,122.58 L351.10,120.65 L355.40,118.73 L359.70,116.81 L364.00,114.91 L368.30,113.00 L372.60,111.10 L376.90,109.21" fill="none" stroke="#80420a" stroke-width="1.85" stroke-linejoin="round"/>
<path d="M55.70,289.00 L56.51,288.43 L57.33,287.87 L58.14,287.32 L58.95,286.77 L59.77,286.23 L60.58,285.68 L61.39,285.14 L62.21,284.59 L63.02,284.05 L63.83,283.51 L64.64,282.97 L65.46,282.43 L66.27,281.89 L67.08,281.36 L67.90,280.82 L68.71,280.28 L69.52,279.75 L70.34,279.21 L71.15,278.68 L71.96,278.15 L72.78,277.61 L73.59,277.08 L74.40,276.55 L75.22,276.02 L76.03,275.48 L76.84,274.95 L77.66,274.42 L78.47,273.89 L79.28,273.37 L80.09,272.84 L80.91,272.31 L81.72,271.78 L82.53,271.25 L83.35,270.73 L84.16,270.20 L84.97,269.68 L85.79,269.15 L86.60,268.63 L87.41,268.10 L88.23,267.58 L89.04,267.05 L89.85,266.53 L90.67,266.01 L91.48,265.49 L92.29,264.97 L93.11,264.45 L93.92,263.93 L94.73,263.41 L95.55,262.89 L96.36,262.37 L97.17,261.85 L97.98,261.33 L98.80,260.82 L99.61,260.30 L100.42,259.78 L101.24,259.27 L102.05,258.75 L102.86,258.24 L103.68,257.72 L104.49,257.21 L105.30,256.70 L106.12,256.19 L106.93,255.67 L107.74,255.16 L108.56,254.65 L109.37,254.14 L110.18,253.63 L111.00,253.12 L111.81,252.62 L112.62,252.11 L113.43,251.60 L114.25,251.09 L115.06,250.59 L115.87,250.08 L116.69,249.58 L117.50,249.07 L118.31,248.57 L119.13,248.07 L119.94,247.57 L123.15,245.59 L127.45,242.95 L131.75,240.34 L136.05,237.74 L140.36,235.16 L144.66,232.60 L148.96,230.06 L153.26,227.54 L157.56,225.04 L161.86,222.55 L166.16,220.09 L170.46,217.64 L174.76,215.22 L179.06,212.81 L183.36,210.43 L187.66,208.06 L191.97,205.71 L196.27,203.38 L200.57,201.07 L204.87,198.77 L209.17,196.50 L213.47,194.24 L217.77,192.00 L222.07,189.77 L226.37,187.57 L230.67,185.37 L234.97,183.20 L239.27,181.04 L243.57,178.89 L247.88,176.76 L252.18,174.64 L256.48,172.53 L260.78,170.44 L265.08,168.37 L269.38,166.30 L273.68,164.25 L277.98,162.21 L282.28,160.17 L286.58,158.16 L290.88,156.15 L295.18,154.15 L299.49,152.16 L303.79,150.18 L308.09,148.21 L312.39,146.25 L316.69,144.29 L320.99,142.35 L325.29,140.41 L329.59,138.48 L333.89,136.56 L338.19,134.64 L342.49,132.73 L346.79,130.83 L351.10,128.94 L355.40,127.05 L359.70,125.16 L364.00,123.28 L368.30,121.41 L372.60,119.54 L376.90,117.68" fill="none" stroke="#16b42a" stroke-width="1.85" stroke-linejoin="round"/>
<path d="M55.70,289.00 L56.51,288.53 L57.33,288.05 L58.14,287.58 L58.95,287.10 L59.77,286.62 L60.58,286.13 L61.39,285.65 L62.21,285.17 L63.02,284.69 L63.83,284.20 L64.64,283.72 L65.46,283.24 L66.27,282.75 L67.08,282.27 L67.90,281.78 L68.71,281.30 L69.52,280.81 L70.34,280.33 L71.15,279.84 L71.96,279.36 L72.78,278.87 L73.59,278.38 L74.40,277.90 L75.22,277.41 L76.03,276.93 L76.84,276.44 L77.66,275.96 L78.47,275.47 L79.28,274.99 L80.09,274.50 L80.91,274.02 L81.72,273.53 L82.53,273.04 L83.35,272.56 L84.16,272.08 L84.97,271.59 L85.79,271.11 L86.60,270.62 L87.41,270.14 L88.23,269.65 L89.04,269.17 L89.85,268.69 L90.67,268.20 L91.48,267.72 L92.29,267.24 L93.11,266.75 L93.92,266.27 L94.73,265.79 L95.55,265.30 L96.36,264.82 L97.17,264.34 L97.98,263.86 L98.80,263.38 L99.61,262.90 L100.42,262.42 L101.24,261.94 L102.05,261.46 L102.86,260.98 L103.68,260.50 L104.49,260.02 L105.30,259.54 L106.12,259.06 L106.93,258.58 L107.74,258.11 L108.56,257.63 L109.37,257.15 L110.18,256.68 L111.00,256.20 L111.81,255.72 L112.62,255.25 L113.43,254.77 L114.25,254.30 L115.06,253.83 L115.87,253.35 L116.69,252.88 L117.50,252.41 L118.31,251.93 L119.13,251.46 L119.94,250.99 L123.15,249.13 L127.45,246.65 L131.75,244.19 L136.05,241.74 L140.36,239.31 L144.66,236.89 L148.96,234.48 L153.26,232.09 L157.56,229.72 L161.86,227.36 L166.16,225.02 L170.46,222.70 L174.76,220.39 L179.06,218.10 L183.36,215.82 L187.66,213.56 L191.97,211.32 L196.27,209.10 L200.57,206.88 L204.87,204.69 L209.17,202.51 L213.47,200.35 L217.77,198.20 L222.07,196.06 L226.37,193.94 L230.67,191.84 L234.97,189.74 L239.27,187.66 L243.57,185.60 L247.88,183.54 L252.18,181.50 L256.48,179.47 L260.78,177.46 L265.08,175.45 L269.38,173.45 L273.68,171.47 L277.98,169.49 L282.28,167.53 L286.58,165.57 L290.88,163.63 L295.18,161.69 L299.49,159.76 L303.79,157.84 L308.09,155.92 L312.39,154.02 L316.69,152.12 L320.99,150.23 L325.29,148.34 L329.59,146.46 L333.89,144.59 L338.19,142.72 L342.49,140.86 L346.79,139.01 L351.10,137.16 L355.40,135.31 L359.70,133.47 L364.00,131.63 L368.30,129.80 L372.60,127.97 L376.90,126.15" fill="none" stroke="#aa1068" stroke-width="1.85" stroke-linejoin="round"/>
<text x="219.5" y="334" text-anchor="middle" font-size="23" font-family="Liberation Serif" font-weight="bold">H (T)</text>
<text transform="translate(21.6,152.6) rotate(-90)" text-anchor="middle" font-size="23.6" font-family="Liberation Serif" font-weight="bold">M (emu/g)</text>
<text x="229.2" y="29.3" text-anchor="middle" font-size="24.5" fill="#127a7a" class="tl" font-family="Liberation Serif" font-weight="bold">(a)</text>
<line x1="60.5" y1="19.3" x2="91.8" y2="19.3" stroke="#000000" stroke-width="1.9"/>
<text transform="translate(96.5,24.2) scale(1,1.08)" font-size="13.9" word-spacing="1.2" font-family="Liberation Serif" font-weight="bold">120 K</text>
<line x1="60.5" y1="38.1" x2="91.8" y2="38.1" stroke="#d80000" stroke-width="1.9"/>
<text transform="translate(96.5,43.0) scale(1,1.08)" font-size="13.9" word-spacing="1.2" font-family="Liberation Serif" font-weight="bold">123 K</text>
<line x1="60.5" y1="56.9" x2="91.8" y2="56.9" stroke="#0000cc" stroke-width="1.9"/>
<text transform="translate(96.5,61.8) scale(1,1.08)" font-size="13.9" word-spacing="1.2" font-family="Liberation Serif" font-weight="bold">126 K</text>
<line x1="60.5" y1="75.7" x2="91.8" y2="75.7" stroke="#f400f4" stroke-width="1.9"/>
<text transform="translate(96.5,80.6) scale(1,1.08)" font-size="13.9" word-spacing="1.2" font-family="Liberation Serif" font-weight="bold">129 K</text>
<line x1="60.5" y1="94.5" x2="91.8" y2="94.5" stroke="#006c00" stroke-width="1.9"/>
<text transform="translate(96.5,99.4) scale(1,1.08)" font-size="13.9" word-spacing="1.2" font-family="Liberation Serif" font-weight="bold">132 K</text>
<line x1="60.5" y1="113.3" x2="91.8" y2="113.3" stroke="#000058" stroke-width="1.9"/>
<text transform="translate(96.5,118.2) scale(1,1.08)" font-size="13.9" word-spacing="1.2" font-family="Liberation Serif" font-weight="bold">135 K</text>
<line x1="60.5" y1="132.1" x2="91.8" y2="132.1" stroke="#7010e0" stroke-width="1.9"/>
<text transform="translate(96.5,137.0) scale(1,1.08)" font-size="13.9" word-spacing="1.2" font-family="Liberation Serif" font-weight="bold">138 K</text>
<line x1="60.5" y1="150.9" x2="91.8" y2="150.9" stroke="#52005e" stroke-width="1.9"/>
<text transform="translate(96.5,155.8) scale(1,1.08)" font-size="13.9" word-spacing="1.2" font-family="Liberation Serif" font-weight="bold">141 K</text>
<line x1="302" y1="165.2" x2="337.4" y2="165.2" stroke="#6c0012" stroke-width="1.9"/>
<text transform="translate(341.6,170.1) scale(1,1.08)" font-size="14.0" word-spacing="1.2" font-family="Liberation Serif" font-weight="bold">144 K</text>
<line x1="302" y1="184.0" x2="337.4" y2="184.0" stroke="#807c00" stroke-width="1.9"/>
<text transform="translate(341.6,188.9) scale(1,1.08)" font-size="14.0" word-spacing="1.2" font-family="Liberation Serif" font-weight="bold">147 K</text>
<line x1="302" y1="202.9" x2="337.4" y2="202.9" stroke="#14489c" stroke-width="1.9"/>
<text transform="translate(341.6,207.8) scale(1,1.08)" font-size="14.0" word-spacing="1.2" font-family="Liberation Serif" font-weight="bold">151 K</text>
<line x1="302" y1="221.8" x2="337.4" y2="221.8" stroke="#0e7c86" stroke-width="1.9"/>
<text transform="translate(341.6,226.7) scale(1,1.08)" font-size="14.0" word-spacing="1.2" font-family="Liberation Serif" font-weight="bold">154 K</text>
<line x1="302" y1="240.6" x2="337.4" y2="240.6" stroke="#80420a" stroke-width="1.9"/>
<text transform="translate(341.6,245.5) scale(1,1.08)" font-size="14.0" word-spacing="1.2" font-family="Liberation Serif" font-weight="bold">157 K</text>
<line x1="302" y1="259.4" x2="337.4" y2="259.4" stroke="#16b42a" stroke-width="1.9"/>
<text transform="translate(341.6,264.3) scale(1,1.08)" font-size="14.0" word-spacing="1.2" font-family="Liberation Serif" font-weight="bold">160 K</text>
<line x1="302" y1="278.3" x2="337.4" y2="278.3" stroke="#aa1068" stroke-width="1.9"/>
<text transform="translate(341.6,283.2) scale(1,1.08)" font-size="14.0" word-spacing="1.2" font-family="Liberation Serif" font-weight="bold">164 K</text>
<defs><radialGradient id="ball" cx="0.42" cy="0.42" r="0.62" fx="0.4" fy="0.38"><stop offset="0" stop-color="#ffffff"/><stop offset="0.22" stop-color="#9090ff"/><stop offset="0.45" stop-color="#0a0aff"/><stop offset="1" stop-color="#0000b8"/></radialGradient></defs>
<rect x="434.8" y="9.3" width="168.3" height="127.7" fill="none" stroke="#000" stroke-width="1.9"/>
<line x1="431" y1="137.30" x2="435" y2="137.30" stroke="#000" stroke-width="1.8"/>
<text transform="translate(430.50,141.90) scale(1,1.14)" text-anchor="end" font-size="12.5" fill="#000" font-family="Liberation Serif" font-weight="bold" >6</text>
<line x1="432.5" y1="126.64" x2="435" y2="126.64" stroke="#000" stroke-width="1.6"/>
<line x1="431" y1="115.97" x2="435" y2="115.97" stroke="#000" stroke-width="1.8"/>
<text transform="translate(430.50,120.57) scale(1,1.14)" text-anchor="end" font-size="12.5" fill="#000" font-family="Liberation Serif" font-weight="bold" >7</text>
<line x1="432.5" y1="105.31" x2="435" y2="105.31" stroke="#000" stroke-width="1.6"/>
<line x1="431" y1="94.64" x2="435" y2="94.64" stroke="#000" stroke-width="1.8"/>
<text transform="translate(430.50,99.24) scale(1,1.14)" text-anchor="end" font-size="12.5" fill="#000" font-family="Liberation Serif" font-weight="bold" >8</text>
<line x1="432.5" y1="83.98" x2="435" y2="83.98" stroke="#000" stroke-width="1.6"/>
<line x1="431" y1="73.31" x2="435" y2="73.31" stroke="#000" stroke-width="1.8"/>
<text transform="translate(430.50,77.91) scale(1,1.14)" text-anchor="end" font-size="12.5" fill="#000" font-family="Liberation Serif" font-weight="bold" >9</text>
<line x1="432.5" y1="62.65" x2="435" y2="62.65" stroke="#000" stroke-width="1.6"/>
<line x1="431" y1="51.98" x2="435" y2="51.98" stroke="#000" stroke-width="1.8"/>
<text transform="translate(430.50,56.58) scale(1,1.14)" text-anchor="end" font-size="12.5" fill="#000" font-family="Liberation Serif" font-weight="bold" >10</text>
<line x1="432.5" y1="41.32" x2="435" y2="41.32" stroke="#000" stroke-width="1.6"/>
<line x1="431" y1="30.65" x2="435" y2="30.65" stroke="#000" stroke-width="1.8"/>
<text transform="translate(430.50,35.25) scale(1,1.14)" text-anchor="end" font-size="12.5" fill="#000" font-family="Liberation Serif" font-weight="bold" >11</text>
<line x1="432.5" y1="19.99" x2="435" y2="19.99" stroke="#000" stroke-width="1.6"/>
<line x1="431" y1="9.32" x2="435" y2="9.32" stroke="#000" stroke-width="1.8"/>
<text transform="translate(430.50,13.92) scale(1,1.14)" text-anchor="end" font-size="12.5" fill="#000" font-family="Liberation Serif" font-weight="bold" >12</text>
<line x1="435.10" y1="137" x2="435.10" y2="140.6" stroke="#000" stroke-width="1.8"/>
<text transform="translate(435.10,153.20) scale(1,1.14)" text-anchor="middle" font-size="12.5" fill="#000" font-family="Liberation Serif" font-weight="bold" >0.00</text>
<line x1="451.80" y1="137" x2="451.80" y2="139.4" stroke="#000" stroke-width="1.6"/>
<line x1="468.50" y1="137" x2="468.50" y2="140.6" stroke="#000" stroke-width="1.8"/>
<text transform="translate(468.50,153.20) scale(1,1.14)" text-anchor="middle" font-size="12.5" fill="#000" font-family="Liberation Serif" font-weight="bold" >0.04</text>
<line x1="485.20" y1="137" x2="485.20" y2="139.4" stroke="#000" stroke-width="1.6"/>
<line x1="501.90" y1="137" x2="501.90" y2="140.6" stroke="#000" stroke-width="1.8"/>
<text transform="translate(501.90,153.20) scale(1,1.14)" text-anchor="middle" font-size="12.5" fill="#000" font-family="Liberation Serif" font-weight="bold" >0.08</text>
<line x1="518.60" y1="137" x2="518.60" y2="139.4" stroke="#000" stroke-width="1.6"/>
<line x1="535.30" y1="137" x2="535.30" y2="140.6" stroke="#000" stroke-width="1.8"/>
<text transform="translate(535.30,153.20) scale(1,1.14)" text-anchor="middle" font-size="12.5" fill="#000" font-family="Liberation Serif" font-weight="bold" >0.12</text>
<line x1="552.00" y1="137" x2="552.00" y2="139.4" stroke="#000" stroke-width="1.6"/>
<line x1="568.70" y1="137" x2="568.70" y2="140.6" stroke="#000" stroke-width="1.8"/>
<text transform="translate(568.70,153.20) scale(1,1.14)" text-anchor="middle" font-size="12.5" fill="#000" font-family="Liberation Serif" font-weight="bold" >0.16</text>
<line x1="585.40" y1="137" x2="585.40" y2="139.4" stroke="#000" stroke-width="1.6"/>
<line x1="602.10" y1="137" x2="602.10" y2="140.6" stroke="#000" stroke-width="1.8"/>
<text transform="translate(602.10,153.20) scale(1,1.14)" text-anchor="middle" font-size="12.5" fill="#000" font-family="Liberation Serif" font-weight="bold" >0.20</text>
<circle cx="446.5" cy="120.5" r="3.1" fill="url(#ball)"/>
<circle cx="463.5" cy="101.2" r="3.1" fill="url(#ball)"/>
<circle cx="480.8" cy="87.5" r="3.1" fill="url(#ball)"/>
<circle cx="498.3" cy="71.3" r="3.1" fill="url(#ball)"/>
<circle cx="515.2" cy="58.8" r="3.1" fill="url(#ball)"/>
<circle cx="532.6" cy="44.3" r="3.1" fill="url(#ball)"/>
<circle cx="549.7" cy="35.7" r="3.1" fill="url(#ball)"/>
<circle cx="567.1" cy="26.8" r="3.1" fill="url(#ball)"/>
<circle cx="585.1" cy="20.5" r="3.1" fill="url(#ball)"/>
<path d="M446.00,119.78 L448.37,117.25 L450.75,114.76 L453.12,112.29 L455.49,109.86 L457.86,107.45 L460.24,105.07 L462.61,102.72 L464.98,100.40 L467.36,98.11 L469.73,95.84 L472.10,93.60 L474.47,91.39 L476.85,89.21 L479.22,87.06 L481.59,84.93 L483.97,82.83 L486.34,80.76 L488.71,78.71 L491.08,76.69 L493.46,74.70 L495.83,72.74 L498.20,70.80 L500.58,68.89 L502.95,67.00 L505.32,65.14 L507.69,63.30 L510.07,61.49 L512.44,59.71 L514.81,57.95 L517.19,56.22 L519.56,54.52 L521.93,52.83 L524.31,51.18 L526.68,49.54 L529.05,47.94 L531.42,46.36 L533.80,44.80 L536.17,43.26 L538.54,41.75 L540.92,40.27 L543.29,38.81 L545.66,37.37 L548.03,35.95 L550.41,34.56 L552.78,33.20 L555.15,31.85 L557.53,30.53 L559.90,29.23 L562.27,27.96 L564.64,26.70 L567.02,25.47 L569.39,24.27 L571.76,23.08 L574.14,21.92 L576.51,20.78 L578.88,19.66 L581.25,18.56 L583.63,17.48 L586.00,16.43" fill="none" stroke="#e00000" stroke-width="2.3"/>
<circle cx="448.8" cy="22.1" r="3.2" fill="url(#ball)"/>
<text transform="translate(459.90,25.00) scale(1,1.14)" text-anchor="start" font-size="12.7" fill="#000" font-family="Liberation Serif" font-weight="bold" >Exp. data</text>
<line x1="441.4" y1="38" x2="456.6" y2="38" stroke="#e00000" stroke-width="2.1"/>
<text transform="translate(459.90,40.80) scale(1,1.14)" text-anchor="start" font-size="12.7" fill="#000" font-family="Liberation Serif" font-weight="bold" >Fitted curve</text>
<text transform="translate(569.20,93.80)" text-anchor="middle" font-size="24.5" fill="#127a7a" font-family="Liberation Serif" font-weight="bold" class="tl">(b)</text>
<text transform="translate(597.00,131.00) scale(1,1.14)" text-anchor="end" font-size="12.5" fill="#000" font-family="Liberation Serif" font-weight="bold" >β = 0.59 ± 0.07</text>
<text transform="translate(519.00,169.50) scale(1,1.14)" text-anchor="middle" font-size="12.5" fill="#000" font-family="Liberation Serif" font-weight="bold" >-t</text>
<text transform="translate(410.2,75.5) rotate(-90)" text-anchor="middle" font-size="13" font-family="Liberation Serif" font-weight="bold">M<tspan font-size="9" dy="3">S</tspan><tspan dy="-3">(emu/g)</tspan></text>
<rect x="432.8" y="172.7" width="172.3" height="126.3" fill="none" stroke="#000" stroke-width="1.9"/>
<line x1="429" y1="290.20" x2="433" y2="290.20" stroke="#000" stroke-width="1.8"/>
<text transform="translate(428.00,294.80) scale(1,1.14)" text-anchor="end" font-size="12.5" fill="#000" font-family="Liberation Serif" font-weight="bold" >1.5</text>
<line x1="430.5" y1="275.43" x2="433" y2="275.43" stroke="#000" stroke-width="1.6"/>
<line x1="429" y1="260.65" x2="433" y2="260.65" stroke="#000" stroke-width="1.8"/>
<text transform="translate(428.00,265.25) scale(1,1.14)" text-anchor="end" font-size="12.5" fill="#000" font-family="Liberation Serif" font-weight="bold" >1.8</text>
<line x1="430.5" y1="245.87" x2="433" y2="245.87" stroke="#000" stroke-width="1.6"/>
<line x1="429" y1="231.10" x2="433" y2="231.10" stroke="#000" stroke-width="1.8"/>
<text transform="translate(428.00,235.70) scale(1,1.14)" text-anchor="end" font-size="12.5" fill="#000" font-family="Liberation Serif" font-weight="bold" >2.1</text>
<line x1="430.5" y1="216.32" x2="433" y2="216.32" stroke="#000" stroke-width="1.6"/>
<line x1="429" y1="201.55" x2="433" y2="201.55" stroke="#000" stroke-width="1.8"/>
<text transform="translate(428.00,206.15) scale(1,1.14)" text-anchor="end" font-size="12.5" fill="#000" font-family="Liberation Serif" font-weight="bold" >2.4</text>
<line x1="430.5" y1="186.78" x2="433" y2="186.78" stroke="#000" stroke-width="1.6"/>
<line x1="429" y1="172.00" x2="433" y2="172.00" stroke="#000" stroke-width="1.8"/>
<text transform="translate(428.00,176.60) scale(1,1.14)" text-anchor="end" font-size="12.5" fill="#000" font-family="Liberation Serif" font-weight="bold" >2.7</text>
<line x1="445.60" y1="299" x2="445.60" y2="302.3" stroke="#000" stroke-width="1.8"/>
<text transform="translate(445.60,315.80) scale(1,1.14)" text-anchor="middle" font-size="12.5" fill="#000" font-family="Liberation Serif" font-weight="bold" >0.00</text>
<line x1="464.03" y1="299" x2="464.03" y2="301.3" stroke="#000" stroke-width="1.6"/>
<line x1="482.45" y1="299" x2="482.45" y2="302.3" stroke="#000" stroke-width="1.8"/>
<text transform="translate(482.45,315.80) scale(1,1.14)" text-anchor="middle" font-size="12.5" fill="#000" font-family="Liberation Serif" font-weight="bold" >0.03</text>
<line x1="500.88" y1="299" x2="500.88" y2="301.3" stroke="#000" stroke-width="1.6"/>
<line x1="519.30" y1="299" x2="519.30" y2="302.3" stroke="#000" stroke-width="1.8"/>
<text transform="translate(519.30,315.80) scale(1,1.14)" text-anchor="middle" font-size="12.5" fill="#000" font-family="Liberation Serif" font-weight="bold" >0.06</text>
<line x1="537.73" y1="299" x2="537.73" y2="301.3" stroke="#000" stroke-width="1.6"/>
<line x1="556.15" y1="299" x2="556.15" y2="302.3" stroke="#000" stroke-width="1.8"/>
<text transform="translate(556.15,315.80) scale(1,1.14)" text-anchor="middle" font-size="12.5" fill="#000" font-family="Liberation Serif" font-weight="bold" >0.09</text>
<line x1="574.58" y1="299" x2="574.58" y2="301.3" stroke="#000" stroke-width="1.6"/>
<line x1="593.00" y1="299" x2="593.00" y2="302.3" stroke="#000" stroke-width="1.8"/>
<text transform="translate(593.00,315.80) scale(1,1.14)" text-anchor="middle" font-size="12.5" fill="#000" font-family="Liberation Serif" font-weight="bold" >0.12</text>
<circle cx="453.9" cy="284.5" r="3.1" fill="url(#ball)"/>
<circle cx="487.3" cy="262.7" r="3.1" fill="url(#ball)"/>
<circle cx="512.5" cy="245.0" r="3.1" fill="url(#ball)"/>
<circle cx="538" cy="226.1" r="3.1" fill="url(#ball)"/>
<circle cx="563.4" cy="204.2" r="3.1" fill="url(#ball)"/>
<circle cx="588.6" cy="182.5" r="3.1" fill="url(#ball)"/>
<path d="M451.50,285.84 L453.85,284.43 L456.19,283.00 L458.54,281.57 L460.89,280.12 L463.24,278.66 L465.58,277.18 L467.93,275.69 L470.28,274.19 L472.63,272.68 L474.97,271.16 L477.32,269.62 L479.67,268.07 L482.02,266.51 L484.36,264.93 L486.71,263.34 L489.06,261.74 L491.41,260.13 L493.75,258.51 L496.10,256.87 L498.45,255.22 L500.80,253.56 L503.14,251.88 L505.49,250.20 L507.84,248.50 L510.19,246.78 L512.53,245.06 L514.88,243.32 L517.23,241.57 L519.58,239.81 L521.92,238.04 L524.27,236.25 L526.62,234.45 L528.97,232.64 L531.31,230.81 L533.66,228.97 L536.01,227.12 L538.36,225.26 L540.70,223.39 L543.05,221.50 L545.40,219.60 L547.75,217.69 L550.09,215.76 L552.44,213.83 L554.79,211.88 L557.14,209.92 L559.48,207.94 L561.83,205.95 L564.18,203.95 L566.53,201.94 L568.87,199.92 L571.22,197.88 L573.57,195.83 L575.92,193.77 L578.26,191.69 L580.61,189.61 L582.96,187.51 L585.31,185.39 L587.65,183.27 L590.00,181.13" fill="none" stroke="#e00000" stroke-width="2.3"/>
<circle cx="448.2" cy="184.3" r="3.2" fill="url(#ball)"/>
<text transform="translate(459.00,186.90) scale(1,1.1)" text-anchor="start" font-size="12.9" fill="#000" font-family="Liberation Serif" font-weight="bold" >Exp. data</text>
<line x1="441" y1="200.3" x2="456" y2="200.3" stroke="#e00000" stroke-width="2.1"/>
<text transform="translate(459.00,202.00) scale(1,1.1)" text-anchor="start" font-size="12.9" fill="#000" font-family="Liberation Serif" font-weight="bold" >Fitted curve</text>
<text transform="translate(570.50,261.30)" text-anchor="middle" font-size="24.5" fill="#127a7a" font-family="Liberation Serif" font-weight="bold" class="tl">(c)</text>
<text transform="translate(599.00,292.60) scale(1,1.14)" text-anchor="end" font-size="12.5" fill="#000" font-family="Liberation Serif" font-weight="bold" >γ = 1.19 ± 0.03</text>
<text transform="translate(518.00,328.30) scale(1,1.14)" text-anchor="middle" font-size="12.5" fill="#000" font-family="Liberation Serif" font-weight="bold" >t</text>
<text transform="translate(405,234.3) rotate(-90)" text-anchor="middle" font-size="13.3" font-family="Liberation Serif" font-weight="bold"><tspan font-size="12">χ</tspan><tspan font-size="8.5" dy="3">0</tspan><tspan font-size="8.5" dy="-8.5" dx="-4.5">-1</tspan><tspan dy="5.5">(10</tspan><tspan font-size="8.5" dy="-5">3</tspan><tspan dy="5"> Oe×g/emu)</tspan></text>
</svg>
</body></html>
